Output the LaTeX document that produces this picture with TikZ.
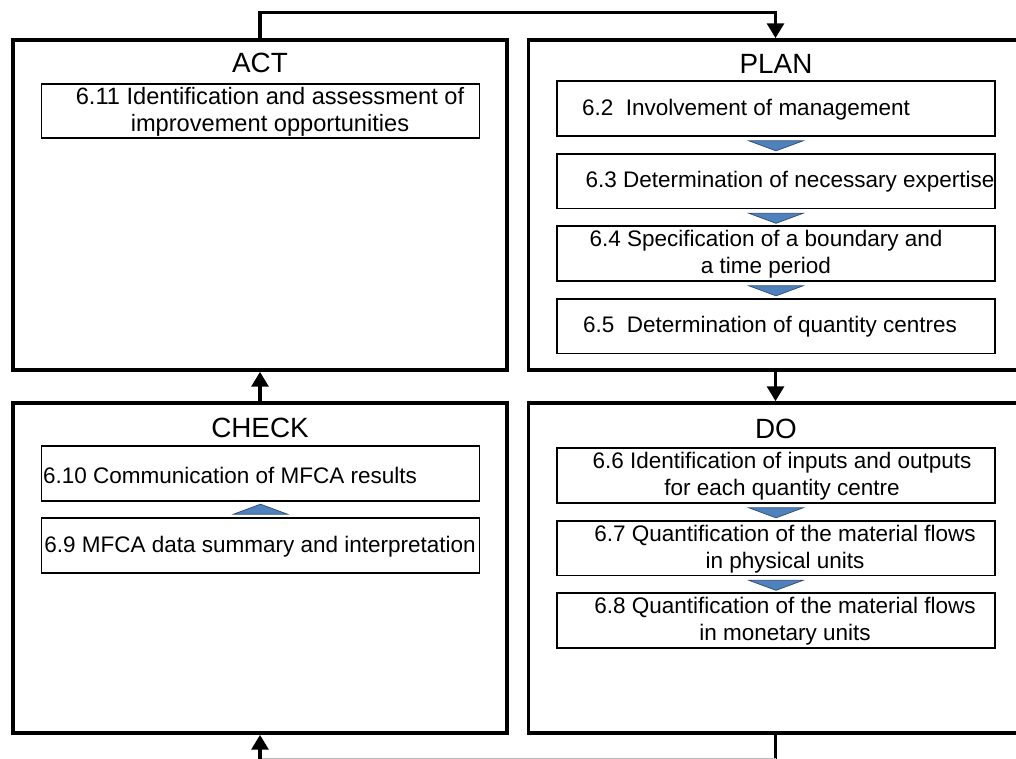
\documentclass[tikz,border=0pt]{standalone}
\usepackage{fontspec}
\setmainfont{Liberation Sans}
\usetikzlibrary{arrows.meta}

\definecolor{flowblue}{RGB}{79,129,189}
\definecolor{flowedge}{RGB}{45,75,115}

\begin{document}
\begin{tikzpicture}[x=0.025cm, y=-0.025cm,
    phasebox/.style={draw, line width=2.6pt, minimum width=12.35cm, minimum height=8.25cm, inner sep=0pt},
    itembox/.style={draw, line width=1.3pt, minimum width=10.95cm, minimum height=1.37cm, inner sep=0pt},
    phasetitle/.style={font=\fontsize{19.8}{23}\selectfont, inner sep=0pt},
    itemtext/.style={font=\fontsize{16}{19.2}\selectfont, align=center, inner sep=0pt},
    link/.style={line width=2.2pt},
    tip/.style={-{Triangle[width=12pt, length=10.5pt]}},
    flowtri/.style={fill=flowblue, draw=flowedge, line width=0.5pt}]
    \clip (0,0) rectangle (1016,758);

    % The four phases
    \node[phasebox] (act) at (260,205) {};
    \node[phasebox] (plan) at (775.5,205) {};
    \node[phasebox] (check) at (260,568) {};
    \node[phasebox] (do) at (775.5,568) {};
    \node[phasetitle] (acttitle) at (260,63) {ACT};
    \node[phasetitle] (plantitle) at (776,63.5) {PLAN};
    \node[phasetitle] (checktitle) at (260,428) {CHECK};
    \node[phasetitle] (dotitle) at (776,429) {DO};

    % ACT
    \node[itembox] (b611) at (260.5,111) {};
    \node[itemtext, font=\fontsize{16.8}{19.2}\selectfont] (t611) at (270,112) {6.11 Identification and assessment of\\improvement opportunities};

    % PLAN
    \node[itembox] (b62) at (776,108.5) {};
    \node[itembox] (b63) at (776,181) {};
    \node[itembox] (b64) at (776,253.5) {};
    \node[itembox] (b65) at (776,326) {};
    \node[itemtext] (t62) at (746,110) {6.2~ Involvement of management};
    \node[itemtext] (t63) at (790,182) {6.3 Determination of necessary expertise};
    \node[itemtext] (t64) at (766,254) {6.4 Specification of a boundary and\\a time period};
    \node[itemtext] (t65) at (770,327) {6.5~ Determination of quantity centres};
    \foreach \a in {b62,b63,b64}
        \draw[flowtri] (\a.south) ++(-27,4) -- ++(54,0) -- ++(-27,10) -- cycle;

    % DO
    \node[itembox] (b66) at (776,475.5) {};
    \node[itembox] (b67) at (776,548) {};
    \node[itembox] (b68) at (776,620.5) {};
    \node[itemtext] (t66) at (782,476) {6.6 Identification of inputs and outputs\\for each quantity centre};
    \node[itemtext] (t67) at (785,549) {6.7 Quantification of the material flows\\in physical units};
    \node[itemtext] (t68) at (785,621) {6.8 Quantification of the material flows\\in monetary units};
    \foreach \a in {b66,b67}
        \draw[flowtri] (\a.south) ++(-27,4) -- ++(54,0) -- ++(-27,10) -- cycle;

    % CHECK
    \node[itembox] (b610) at (260.5,473.5) {};
    \node[itembox] (b69) at (260.5,545.5) {};
    \node[itemtext] (t610) at (230,475) {6.10 Communication of MFCA results};
    \node[itemtext] (t69) at (260,547) {6.9 MFCA data summary and interpretation};
    \draw[flowtri] (b69.north) ++(-27,-3) -- ++(54,0) -- ++(-27,-10) -- cycle;

    % Cycle connectors
    \draw[link, tip] (act.north) -- ++(0,-26) -| (plan.north);
    \draw[link, tip] (plan.south) -- (do.north);
    \draw[link, tip] (check.north) -- (act.south);
    \draw[link] (do.south) -- ++(0,24) coordinate (dobase);
    \coordinate (checkbase) at (dobase -| check.south);
    \draw[gray!55, line width=0.8pt] (dobase) -- (checkbase);
    \draw[link, tip] (checkbase) -- (check.south);
\end{tikzpicture}
\end{document}
